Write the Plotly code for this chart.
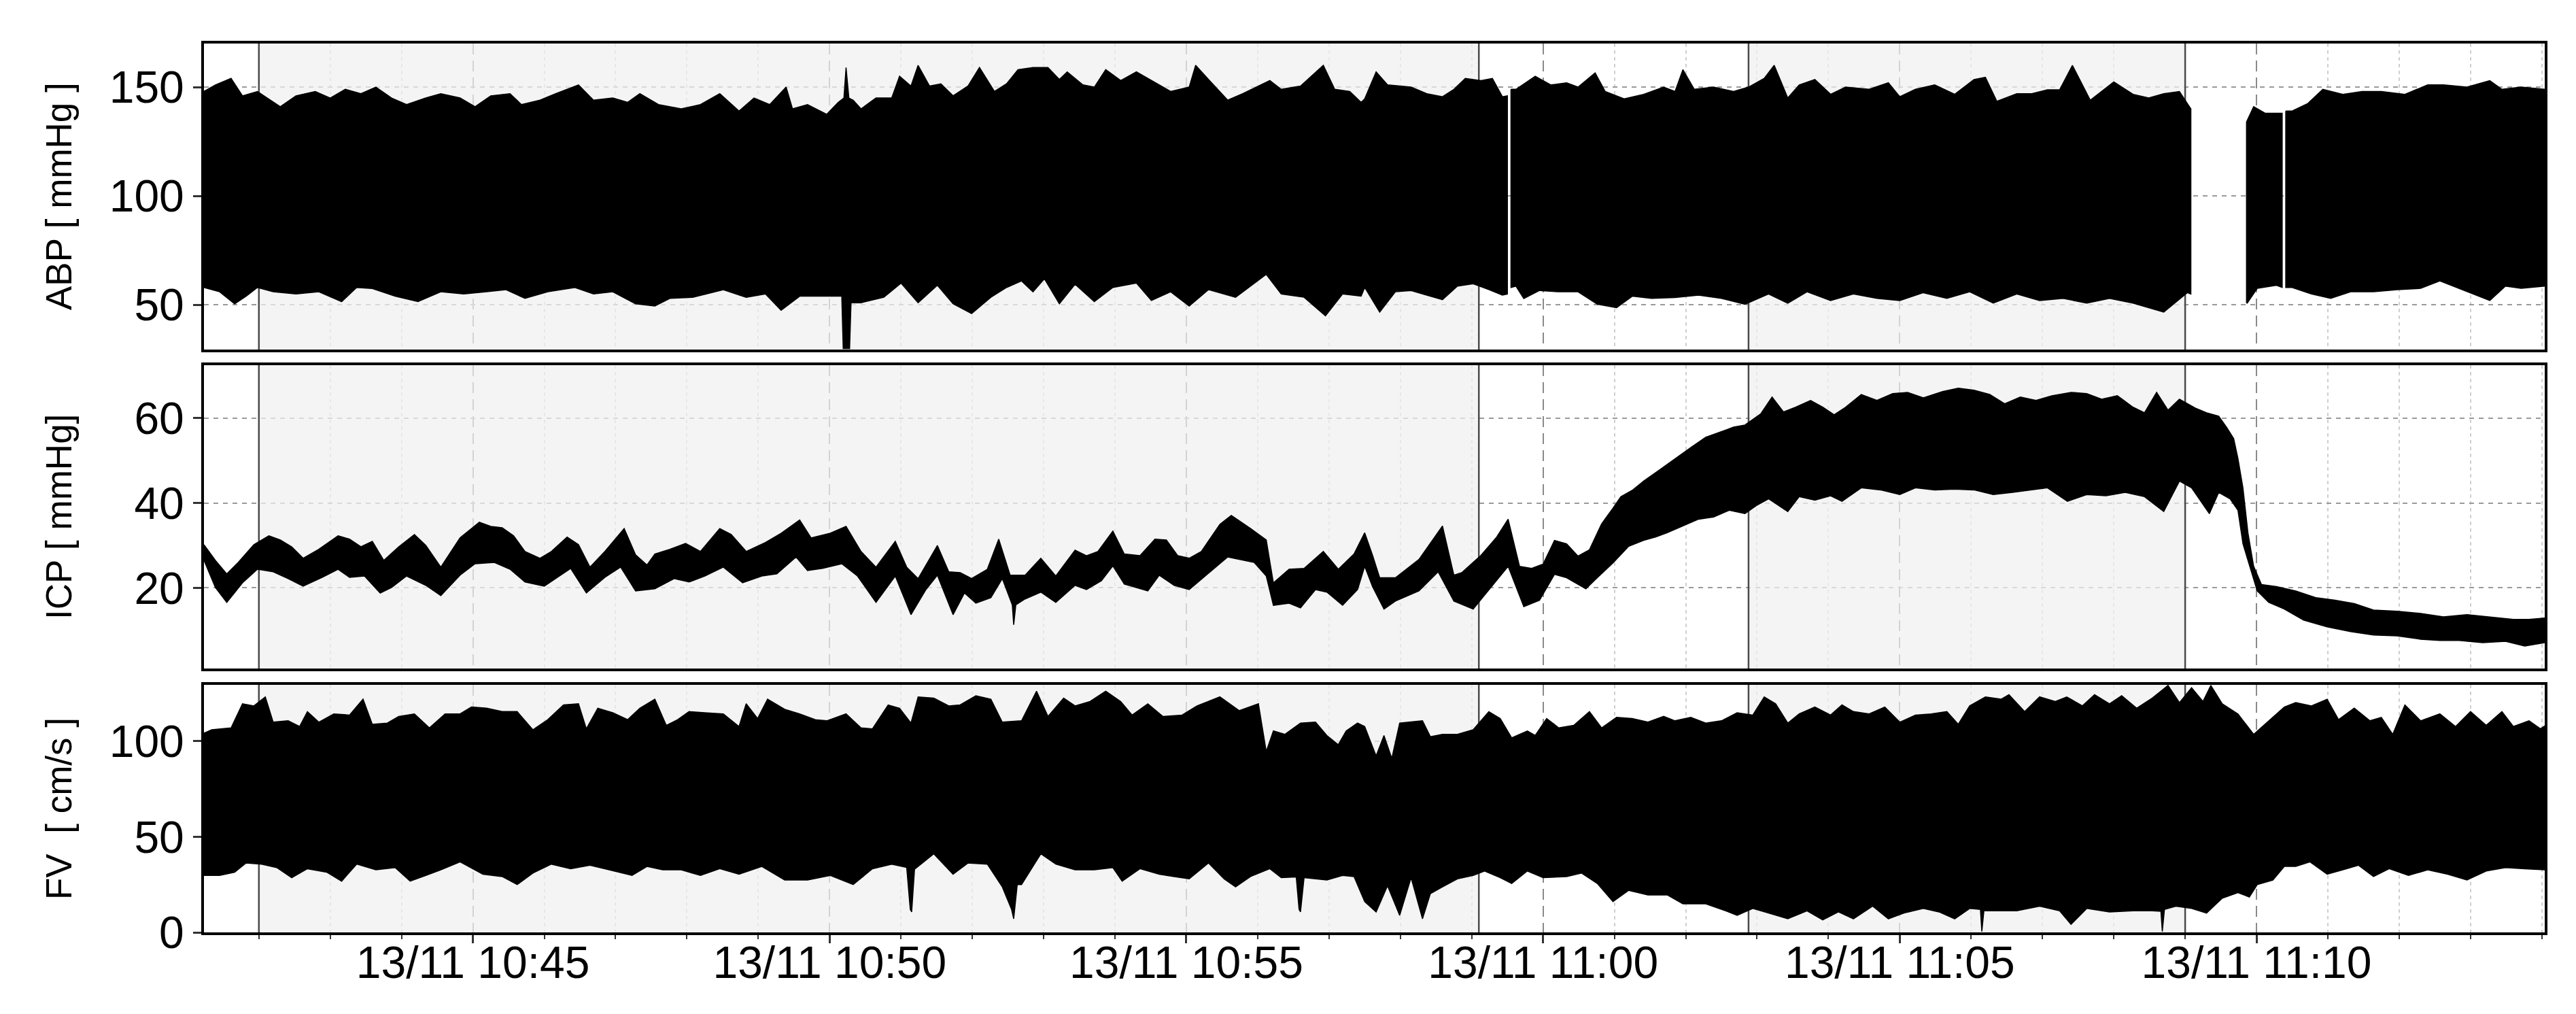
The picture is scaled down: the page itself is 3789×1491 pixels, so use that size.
import plotly.graph_objects as go
from plotly.subplots import make_subplots
from datetime import datetime, timedelta

# ---------------- data (time in minutes after 13/11 10:40) ----------------
BASE = datetime(2013, 11, 13, 10, 40, 0)

X_RANGE_MIN = [1.23, 34.04]
SHADED = [(2.00, 19.10), (22.88, 29.00)]          # grey periods
BOUNDARIES = [2.00, 19.10, 22.88, 29.00]          # solid vertical markers

ABP_GAPS = [(19.51, 19.54), (29.09, 29.85), (30.37, 30.40)]

ABP_UPPER = [
    (1.23, 148), (1.39, 151), (1.61, 154), (1.77, 146), (1.98, 148), (2.30, 141), (2.52, 146), (2.79, 148),
    (3.00, 145), (3.21, 149), (3.43, 147), (3.64, 150), (3.86, 145), (4.07, 142), (4.34, 145), (4.55, 147),
    (4.82, 145), (5.03, 141), (5.25, 146), (5.52, 147), (5.68, 142), (5.94, 144), (6.16, 147), (6.48, 151),
    (6.69, 144), (6.96, 145), (7.17, 143), (7.34, 147), (7.60, 142), (7.92, 140), (8.19, 142), (8.46, 147),
    (8.73, 139), (8.94, 145), (9.16, 142), (9.39, 150), (9.48, 140), (9.69, 142), (9.96, 137.5), (10.12, 143),
    (10.20, 145), (10.23, 159), (10.27, 145), (10.33, 144), (10.44, 140), (10.65, 145), (10.87, 145),
    (10.98, 155), (11.14, 150.5), (11.24, 160), (11.40, 150.5), (11.56, 151.5), (11.73, 146), (11.94, 150.5),
    (12.10, 159), (12.31, 148), (12.48, 151.5), (12.64, 158), (12.85, 159), (13.06, 159), (13.22, 153.5),
    (13.33, 157), (13.55, 151), (13.71, 150), (13.87, 158), (14.08, 153), (14.30, 157), (14.51, 153),
    (14.78, 148), (15.04, 150), (15.13, 160), (15.31, 153.5), (15.58, 144), (15.79, 147), (16.17, 153),
    (16.33, 149), (16.60, 150.5), (16.92, 160), (17.08, 149), (17.29, 148), (17.45, 143),
    (17.50, 144.6), (17.66, 157), (17.82, 151), (18.15, 150), (18.37, 147), (18.59, 145.6), (18.75, 149),
    (18.91, 154), (19.13, 153), (19.29, 154), (19.43, 145.6), (19.50, 146),
    (19.55, 149), (19.62, 149), (19.89, 155), (20.11, 151), (20.33, 152), (20.49, 150), (20.73, 156.5),
    (20.87, 148), (21.14, 144.6), (21.41, 146.7), (21.69, 150), (21.85, 148), (21.96, 158), (22.12, 149),
    (22.39, 150), (22.67, 148), (22.88, 150), (23.10, 154), (23.24, 160), (23.43, 145), (23.59, 151),
    (23.81, 153.5), (24.03, 146.7), (24.24, 150), (24.57, 149), (24.84, 152), (25.00, 145.6), (25.22, 149),
    (25.49, 151), (25.77, 146.7), (26.04, 153.5), (26.20, 154.5), (26.36, 143.5), (26.64, 147), (26.85, 147),
    (27.07, 148.75), (27.24, 148.75), (27.42, 160), (27.67, 144), (28.00, 152.4), (28.27, 146.7),
    (28.49, 145), (28.70, 147), (28.92, 148), (29.03, 142.5), (29.08, 140),
    (29.86, 134), (29.96, 141), (30.12, 138), (30.28, 138), (30.36, 138),
    (30.41, 139), (30.50, 139), (30.72, 142.5), (30.93, 149), (31.21, 146.7), (31.48, 148), (31.75, 148),
    (32.08, 146.7), (32.40, 151), (32.62, 151), (32.95, 150), (33.27, 153), (33.44, 149), (33.71, 150),
    (34.04, 149),
]

ABP_LOWER = [
    (1.23, 58), (1.45, 56), (1.66, 50.5), (1.82, 54), (1.98, 58), (2.20, 56), (2.52, 55), (2.84, 56),
    (3.16, 51.5), (3.37, 58), (3.59, 57.5), (3.91, 54), (4.23, 51.5), (4.55, 56), (4.87, 55), (5.19, 56),
    (5.46, 57), (5.73, 53), (6.05, 56), (6.43, 58), (6.69, 55), (6.96, 56), (7.28, 50.5), (7.55, 49.5),
    (7.76, 53), (8.08, 53.5), (8.51, 57), (8.83, 53.5), (9.10, 55), (9.32, 47.5), (9.58, 54), (9.90, 54),
    (10.17, 54), (10.19, 30), (10.28, 30), (10.30, 51), (10.44, 51), (10.76, 53.5), (11.00, 60), (11.24, 51),
    (11.51, 59), (11.73, 50.5), (11.99, 46), (12.26, 53.5), (12.48, 58), (12.69, 61), (12.85, 56), (13.01, 62),
    (13.22, 50.5), (13.44, 59.5), (13.71, 51.5), (13.97, 58), (14.30, 60), (14.51, 52), (14.78, 56),
    (15.04, 49.5), (15.31, 57), (15.69, 53.5), (16.12, 64), (16.33, 55), (16.65, 53.5), (16.95, 45),
    (17.19, 55), (17.45, 54),
    (17.50, 58), (17.71, 46.7), (17.93, 56), (18.15, 56.6), (18.37, 54.5), (18.59, 52.4), (18.80, 58.6),
    (19.02, 59.7), (19.24, 57), (19.43, 54.5), (19.50, 55),
    (19.55, 58), (19.62, 58.6), (19.73, 52.9), (19.95, 56.6), (20.22, 56), (20.49, 56), (20.76, 50.3),
    (21.03, 48.75), (21.25, 54), (21.52, 53), (21.85, 53.4), (22.18, 54.5), (22.50, 53), (22.83, 50.3),
    (23.16, 55), (23.43, 50.8), (23.70, 56), (24.03, 52), (24.35, 55), (24.68, 53), (25.00, 52),
    (25.33, 55.6), (25.66, 53), (25.98, 56), (26.31, 50.8), (26.64, 55), (26.96, 52), (27.29, 53),
    (27.62, 50.8), (27.94, 53), (28.27, 50.8), (28.70, 46.7), (29.03, 55.6), (29.08, 55),
    (29.86, 51), (29.87, 50.8), (30.01, 57.6), (30.28, 59), (30.36, 58),
    (30.41, 58), (30.50, 58), (30.77, 55), (31.04, 53), (31.32, 56), (31.64, 56), (31.97, 57), (32.30, 57.6),
    (32.57, 61), (32.84, 57.6), (33.27, 52), (33.49, 58.6), (33.71, 57.6), (34.04, 58.6),
]

ICP_UPPER = [
    (1.23, 30.2), (1.39, 26.5), (1.55, 23.3), (1.71, 26), (1.93, 30.2), (2.14, 32.3), (2.30, 31.3),
    (2.46, 29.7), (2.62, 27), (2.84, 29.1), (3.11, 32.3), (3.27, 31.5), (3.43, 29.7), (3.59, 31),
    (3.75, 26.5), (3.96, 29.7), (4.18, 32.6), (4.34, 30), (4.55, 24.9), (4.82, 31.8), (5.09, 35.5),
    (5.25, 34.5), (5.41, 34.2), (5.57, 32.3), (5.73, 28.6), (5.94, 27), (6.10, 28.6), (6.32, 32),
    (6.48, 30.2), (6.64, 24.9), (6.85, 28.6), (7.12, 34), (7.28, 27.8), (7.44, 25.4), (7.55, 28),
    (7.76, 29.1), (7.98, 30.5), (8.19, 28.6), (8.46, 34), (8.62, 32.6), (8.83, 28.6), (9.10, 30.7),
    (9.32, 32.9), (9.58, 36), (9.74, 31.8), (10.01, 32.9), (10.23, 34.5), (10.44, 28.6), (10.65, 24.9),
    (10.92, 31), (11.08, 24.9), (11.24, 22.2), (11.51, 30), (11.67, 23.8), (11.83, 23.6), (11.99, 22.2),
    (12.21, 24.4), (12.37, 31.5), (12.53, 23), (12.74, 23), (12.96, 27), (13.17, 22.8), (13.44, 28.9),
    (13.60, 27.6), (13.76, 28.6), (13.97, 33.4), (14.13, 28), (14.35, 27.6), (14.56, 31.5), (14.72, 31.3),
    (14.88, 27.6), (15.04, 27), (15.21, 28.6), (15.47, 35), (15.63, 37.1), (15.90, 34), (16.12, 31.3),
    (16.22, 21.2), (16.44, 24.4), (16.65, 24.6), (16.92, 28.6), (17.13, 24.4), (17.35, 28),
    (17.50, 33), (17.61, 27.7), (17.71, 22.4), (17.93, 22.4), (18.26, 26.7), (18.59, 34.6), (18.75, 23),
    (18.86, 23.6), (19.13, 27.7), (19.35, 32), (19.51, 36.2), (19.67, 25.1), (19.84, 24.6), (20.00, 25.6),
    (20.16, 31.2), (20.33, 30.4), (20.49, 27.5), (20.65, 29), (20.82, 35.1), (20.98, 38.8), (21.09, 41.5),
    (21.25, 43), (21.41, 45.2), (21.63, 47.8), (21.85, 50.5), (22.07, 53.1), (22.28, 55.5), (22.50, 56.8),
    (22.67, 57.9), (22.83, 58.4), (23.05, 61), (23.21, 65), (23.37, 61.5), (23.54, 62.6), (23.75, 64.2),
    (23.92, 62.6), (24.08, 60.8), (24.24, 62.6), (24.46, 65.6), (24.68, 64.2), (24.90, 65.8), (25.11, 66.1),
    (25.33, 64.8), (25.60, 66.3), (25.82, 67.1), (26.04, 66.6), (26.26, 65.6), (26.47, 63.4), (26.69, 65),
    (26.91, 64.2), (27.13, 65.3), (27.40, 66.1), (27.62, 65.8), (27.83, 64.5), (28.05, 65.3), (28.27, 62.6),
    (28.43, 61.3), (28.60, 66.1), (28.76, 61.9), (28.92, 64.5), (29.14, 62.4), (29.30, 61.3), (29.47, 60.5),
    (29.58, 57.9), (29.68, 55.2), (29.74, 50.5), (29.81, 43.6), (29.88, 33), (29.96, 25.1), (30.07, 20.8),
    (30.28, 20.3), (30.55, 19.3), (30.83, 17.7), (31.10, 17.1), (31.37, 16.3), (31.64, 14.8), (31.97, 14.5),
    (32.30, 14), (32.62, 13.2), (32.95, 13.7), (33.27, 13.2), (33.60, 12.6), (33.82, 12.6), (34.04, 12.9),
]

ICP_LOWER = [
    (1.23, 26.5), (1.39, 20.1), (1.55, 16.6), (1.77, 21.2), (1.98, 24.4), (2.20, 23.8), (2.41, 22.2),
    (2.62, 20.4), (2.89, 22.5), (3.11, 24.4), (3.27, 22.5), (3.48, 22.8), (3.70, 18.8), (3.86, 20.1),
    (4.07, 22.8), (4.34, 20.6), (4.55, 18.2), (4.82, 23), (5.03, 25.7), (5.30, 26), (5.52, 24.4),
    (5.73, 21.4), (6.00, 20.4), (6.21, 22.8), (6.37, 24.6), (6.59, 18.8), (6.85, 22.5), (7.07, 24.9),
    (7.28, 19.3), (7.55, 19.8), (7.82, 22.2), (8.03, 21.4), (8.25, 22.8), (8.51, 24.9), (8.78, 21.2),
    (9.05, 22.8), (9.26, 23.3), (9.53, 27.3), (9.69, 24.1), (9.90, 24.6), (10.17, 25.7), (10.39, 22.8),
    (10.65, 16.6), (10.92, 22.8), (11.14, 13.7), (11.35, 19.6), (11.51, 23), (11.73, 13.7), (11.89, 18.8),
    (12.05, 16.4), (12.26, 17.7), (12.42, 22.2), (12.56, 16), (12.58, 11.3), (12.61, 16), (12.74, 17.4),
    (12.96, 19), (13.17, 16.6), (13.44, 20.6), (13.60, 19.6), (13.81, 21.7), (13.97, 25.2), (14.13, 20.9),
    (14.46, 19.3), (14.62, 23), (14.83, 20.6), (15.04, 19.6), (15.26, 22.8), (15.58, 27.3), (15.95, 26),
    (16.12, 22.8), (16.22, 15.9), (16.44, 16.4), (16.60, 15.3), (16.81, 19.6), (16.97, 19), (17.19, 15.9),
    (17.40, 19.6),
    (17.50, 25.1), (17.61, 20.3), (17.77, 15), (17.93, 16.9), (18.26, 19.3), (18.53, 23.8), (18.75, 16.9),
    (19.02, 15), (19.29, 20.6), (19.51, 25.1), (19.73, 15.6), (19.95, 17.1), (20.16, 23.2), (20.33, 22.4),
    (20.60, 19.8), (20.76, 22.4), (20.98, 25.9), (21.20, 29.8), (21.41, 31.2), (21.58, 32), (21.74, 33),
    (21.96, 34.6), (22.18, 36.2), (22.39, 36.7), (22.61, 38.3), (22.83, 37.5), (22.99, 39.4), (23.16, 41),
    (23.43, 38), (23.59, 41.5), (23.81, 40.7), (24.03, 41.7), (24.19, 40.4), (24.46, 43.6), (24.73, 43.1),
    (25.00, 42), (25.22, 43.6), (25.49, 43.1), (25.77, 43.3), (26.04, 43.1), (26.31, 42), (26.58, 42.5),
    (26.85, 43.1), (27.07, 43.6), (27.35, 40.4), (27.62, 42), (27.89, 41.7), (28.16, 42.5), (28.43, 41.5),
    (28.70, 38), (28.92, 45.2), (29.09, 43.6), (29.34, 37.5), (29.47, 42.5), (29.63, 41), (29.74, 38.3),
    (29.81, 30.4), (29.90, 25.6), (30.01, 19.3), (30.17, 16.6), (30.39, 15), (30.66, 12.4), (30.99, 10.8),
    (31.32, 9.7), (31.64, 8.9), (31.97, 8.7), (32.30, 7.9), (32.57, 7.6), (32.84, 7.6), (33.17, 7.1),
    (33.49, 7.4), (33.76, 6.3), (34.04, 7.1),
]

FV_UPPER = [
    (1.23, 104.2), (1.34, 106), (1.61, 107), (1.77, 119.6), (1.93, 118.5), (2.09, 123.2), (2.20, 110),
    (2.41, 110.7), (2.57, 107.7), (2.68, 115.5), (2.84, 110), (3.05, 114.3), (3.27, 113.7), (3.46, 122),
    (3.59, 108.9), (3.80, 109.5), (3.96, 113), (4.18, 114.3), (4.39, 107), (4.61, 114.3), (4.82, 114.3),
    (4.98, 117.9), (5.19, 117.3), (5.41, 115.5), (5.62, 115.5), (5.84, 106), (6.05, 111.3), (6.27, 119),
    (6.48, 119.6), (6.59, 106.5), (6.75, 117.3), (6.96, 114.9), (7.17, 111.3), (7.34, 117.3), (7.55, 122),
    (7.71, 108.3), (7.87, 111.3), (8.03, 115.5), (8.25, 114.9), (8.51, 114.3), (8.73, 107.7), (8.83, 119.6),
    (8.99, 111.9), (9.13, 122), (9.37, 116.7), (9.58, 114.3), (9.80, 111.3), (9.96, 110.7), (10.23, 114.3),
    (10.44, 107), (10.60, 106.5), (10.82, 119), (10.98, 117.3), (11.14, 109.5), (11.24, 123.2),
    (11.46, 122.6), (11.67, 118.5), (11.83, 119), (12.05, 123.8), (12.26, 122), (12.42, 110), (12.69, 110.7),
    (12.90, 126.2), (13.06, 113), (13.28, 122.6), (13.44, 118.5), (13.65, 120.8), (13.87, 126.2),
    (14.08, 120.8), (14.24, 113.7), (14.46, 119.6), (14.67, 113), (14.94, 113.7), (15.15, 118.5),
    (15.47, 123.2), (15.74, 116), (16.01, 119.6), (16.12, 94.6), (16.22, 105.4), (16.38, 103.6),
    (16.60, 109.5), (16.81, 110), (16.97, 103), (17.13, 98.2), (17.24, 105.4), (17.40, 109.5),
    (17.50, 107.7), (17.66, 92.3), (17.77, 103), (17.88, 91), (17.99, 109.5), (18.15, 110), (18.31, 110.7),
    (18.42, 102.4), (18.59, 103.6), (18.80, 103.6), (19.02, 106), (19.24, 115.5), (19.40, 111.9),
    (19.56, 101.8), (19.78, 105.4), (19.89, 103), (20.05, 111.9), (20.22, 107), (20.43, 108.3),
    (20.65, 115.5), (20.82, 107), (21.03, 112.5), (21.25, 111.9), (21.47, 110), (21.69, 113), (21.85, 110.7),
    (22.07, 112.5), (22.28, 109.5), (22.50, 110.7), (22.72, 114.9), (22.94, 113.7), (23.10, 123.2),
    (23.26, 119.6), (23.43, 109.5), (23.59, 114.3), (23.81, 117.9), (24.03, 113.7), (24.19, 119),
    (24.35, 115.5), (24.57, 114.3), (24.79, 117.9), (25.00, 110), (25.22, 113.7), (25.44, 114.3),
    (25.66, 115.5), (25.82, 108.9), (25.98, 118.5), (26.20, 123.2), (26.42, 122), (26.53, 124.4),
    (26.75, 115.5), (26.96, 123.2), (27.18, 120.8), (27.34, 123.2), (27.56, 118.5), (27.73, 124.4),
    (27.94, 119.6), (28.11, 123.8), (28.32, 117.3), (28.54, 122.6), (28.76, 129.2), (28.92, 120.2),
    (29.09, 128), (29.25, 120.8), (29.36, 129.2), (29.52, 119.6), (29.74, 114.3), (29.96, 103.6),
    (30.17, 110.7), (30.39, 117.9), (30.55, 120.2), (30.77, 118.5), (30.99, 122), (31.15, 111.3),
    (31.37, 117.3), (31.59, 110.7), (31.75, 112.5), (31.91, 103.6), (32.08, 119), (32.30, 110.7),
    (32.57, 114.3), (32.79, 107.7), (33.00, 115.5), (33.22, 108.3), (33.44, 115.5), (33.60, 107.7),
    (33.82, 110.7), (33.98, 106.5), (34.04, 108),
]

FV_LOWER = [
    (1.23, 29.8), (1.45, 29.8), (1.66, 31.5), (1.82, 36.3), (2.04, 35.7), (2.25, 33.9), (2.46, 28.6),
    (2.68, 33.3), (2.95, 31.5), (3.16, 26.8), (3.37, 35.7), (3.64, 32.7), (3.91, 33.9), (4.12, 26.8),
    (4.34, 29.8), (4.55, 32.7), (4.82, 36.9), (5.14, 30.4), (5.41, 29.2), (5.62, 25), (5.84, 31),
    (6.10, 35.7), (6.37, 33.3), (6.64, 35.1), (6.91, 32.7), (7.23, 29.8), (7.44, 34.5), (7.66, 32.7),
    (7.92, 32.7), (8.19, 29.8), (8.46, 33.3), (8.73, 30.4), (9.05, 34.5), (9.37, 27.4), (9.69, 27.4),
    (10.01, 29.8), (10.33, 25), (10.60, 33.3), (10.87, 35.7), (11.08, 34), (11.13, 12), (11.15, 10.7),
    (11.19, 33), (11.46, 41.1), (11.73, 30.4), (11.94, 36.3), (12.21, 35.7), (12.42, 23.8), (12.55, 12),
    (12.58, 7.1), (12.63, 25), (12.69, 25), (12.96, 41.1), (13.17, 35.7), (13.44, 32.7), (13.71, 32.7),
    (13.97, 33.9), (14.10, 26.8), (14.35, 33.3), (14.62, 30.4), (14.83, 29.2), (15.04, 28), (15.31, 36.3),
    (15.53, 28), (15.69, 23.8), (15.90, 29.2), (16.17, 33.3), (16.33, 28.6), (16.54, 29), (16.58, 12),
    (16.60, 10.7), (16.65, 28.6), (16.97, 27.4), (17.19, 29.8), (17.35, 29.2),
    (17.50, 16.1), (17.66, 10.7), (17.82, 24.4), (17.99, 8.9), (18.15, 28.6), (18.31, 7.1), (18.42, 20.2),
    (18.59, 23.8), (18.80, 28), (19.02, 29.8), (19.18, 32.1), (19.40, 28.6), (19.56, 25.6), (19.78, 32.1),
    (20.00, 28.6), (20.33, 29.2), (20.54, 31), (20.76, 25.6), (20.98, 16.1), (21.20, 22), (21.47, 19.6),
    (21.74, 19.6), (21.96, 14.9), (22.28, 14.9), (22.56, 11.3), (22.72, 8.9), (22.94, 12.5), (23.16, 10.1),
    (23.43, 7.1), (23.70, 11.3), (23.92, 6.5), (24.14, 10.7), (24.35, 7.1), (24.62, 13.7), (24.84, 7.1),
    (25.06, 10.1), (25.33, 12.5), (25.55, 10.7), (25.77, 7.1), (25.98, 12.5), (26.13, 12), (26.15, 0.5),
    (26.18, 11.5), (26.20, 11.3), (26.64, 11.3), (26.96, 13.7), (27.24, 11.3), (27.40, 4.2), (27.62, 12.5),
    (27.94, 10.7), (28.27, 11.3), (28.54, 11.3), (28.66, 11), (28.68, 0.5), (28.71, 12), (28.87, 13.7),
    (29.09, 12.5), (29.30, 10.1), (29.52, 17.9), (29.74, 20.8), (29.90, 18.5), (30.01, 25), (30.23, 27.4),
    (30.39, 34.5), (30.55, 34.5), (30.75, 36.9), (30.99, 30.4), (31.21, 32.7), (31.43, 35.1), (31.64, 29.2),
    (31.86, 33.3), (32.13, 29.8), (32.40, 32.7), (32.68, 30.4), (32.95, 27.4), (33.22, 32.1), (33.49, 33.9),
    (33.76, 33.3), (34.04, 32.7),
]

PANELS = [
    dict(title="ABP [ mmHg ]", upper=ABP_UPPER, lower=ABP_LOWER, gaps=ABP_GAPS,
         yrange=[29.5, 170], ticks=[50, 100, 150]),
    dict(title="ICP [ mmHg]", upper=ICP_UPPER, lower=ICP_LOWER, gaps=[],
         yrange=[1.0, 72.5], ticks=[20, 40, 60]),
    dict(title="FV\u00a0\u00a0[ cm/s ]", upper=FV_UPPER, lower=FV_LOWER, gaps=[],
         yrange=[0, 129.5], ticks=[0, 50, 100]),
]

# ---------------- helpers ----------------
def T(m):
    return BASE + timedelta(minutes=m)


def band_polygons(upper, lower, gaps):
    bounds, start = [], -1e9
    for a, b in gaps:
        bounds.append((start, a))
        start = b
    bounds.append((start, 1e9))
    xs, ys = [], []
    for a, b in bounds:
        up = [(t, v) for t, v in upper if a <= t <= b]
        lo = [(t, v) for t, v in lower if a <= t <= b]
        if not up:
            continue
        pts = up + lo[::-1] + [up[0]]
        xs += [T(t) for t, _ in pts] + [None]
        ys += [v for _, v in pts] + [None]
    return xs, ys


# ---------------- figure ----------------
W, H = 3789, 1491
ML, MR, MT, MB = 292, 54, 56, 128
plot_h = H - MT - MB

def dom(top_px, bot_px):
    return [(H - MB - bot_px) / plot_h, (H - MB - top_px) / plot_h]

DOMAINS = [dom(56, 506), dom(529, 975), dom(999, 1363)]

fig = make_subplots(rows=3, cols=1, shared_xaxes=True, vertical_spacing=0.02)

FONT = "Liberation Sans, Arial, sans-serif"

for i, p in enumerate(PANELS, start=1):
    y0, y1 = p["yrange"]
    # grey shaded periods (semi-transparent so the grid shows faintly through)
    sx, sy = [], []
    for a, b in SHADED:
        sx += [T(a), T(b), T(b), T(a), T(a), None]
        sy += [y0, y0, y1, y1, y0, None]
    fig.add_trace(go.Scatter(x=sx, y=sy, mode="none", fill="toself",
                             fillcolor="rgba(240,240,240,0.72)",
                             hoverinfo="skip", showlegend=False), row=i, col=1)
    # solid period boundaries
    bx, by = [], []
    for t in BOUNDARIES:
        bx += [T(t), T(t), None]
        by += [y0, y1, None]
    fig.add_trace(go.Scatter(x=bx, y=by, mode="lines", line=dict(color="#4a4a4a", width=2.5),
                             hoverinfo="skip", showlegend=False), row=i, col=1)
    # signal band
    xs, ys = band_polygons(p["upper"], p["lower"], p["gaps"])
    fig.add_trace(go.Scatter(x=xs, y=ys, mode="lines", fill="toself",
                             fillcolor="black", line=dict(color="black", width=1.5),
                             hoverinfo="skip", showlegend=False), row=i, col=1)

    yname = "yaxis" if i == 1 else f"yaxis{i}"
    xname = "xaxis" if i == 1 else f"xaxis{i}"
    fig.layout[yname].update(
        domain=DOMAINS[i - 1], range=p["yrange"], tickvals=p["ticks"],
        showline=True, mirror=True, linecolor="black", linewidth=4,
        ticks="outside", ticklen=12, tickwidth=3, tickcolor="#333",
        tickfont=dict(family=FONT, size=66, color="black"),
        showgrid=True, gridcolor="#9a9a9a", gridwidth=2, griddash="7px,7px",
        zeroline=False,
    )
    fig.layout[xname].update(
        range=[T(X_RANGE_MIN[0]), T(X_RANGE_MIN[1])],
        type="date", tick0=BASE + timedelta(minutes=5), dtick=300000,
        showline=True, mirror=True, linecolor="black", linewidth=4,
        showgrid=True, gridcolor="#8a8a8a", gridwidth=2, griddash="16px,9px",
        minor=dict(dtick=60000, showgrid=True, gridcolor="#cfcfcf", gridwidth=1.5,
                   griddash="5px,5px", ticks="outside" if i == 3 else "",
                   ticklen=6, tickcolor="#333", tickwidth=2),
        zeroline=False,
        showticklabels=(i == 3),
        ticks="outside" if i == 3 else "", ticklen=12, tickwidth=3, tickcolor="#333",
        tickformat="%d/%m %H:%M",
        tickfont=dict(family=FONT, size=66, color="black"),
        ticklabelstandoff=-28,
    )

    yref = ("y" if i == 1 else f"y{i}") + " domain"
    fig.add_annotation(text=p["title"], xref="paper", yref=yref, x=(78 - ML) / (W - ML - MR), y=0.5,
                       xanchor="center", yanchor="middle", textangle=-90, showarrow=False,
                       font=dict(family=FONT, size=53, color="black"))

fig.update_layout(
    width=W, height=H,
    margin=dict(l=ML, r=MR, t=MT, b=MB, autoexpand=False),
    paper_bgcolor="white", plot_bgcolor="white",
    hovermode=False, showlegend=False,
)

fig.write_html("out.html")
